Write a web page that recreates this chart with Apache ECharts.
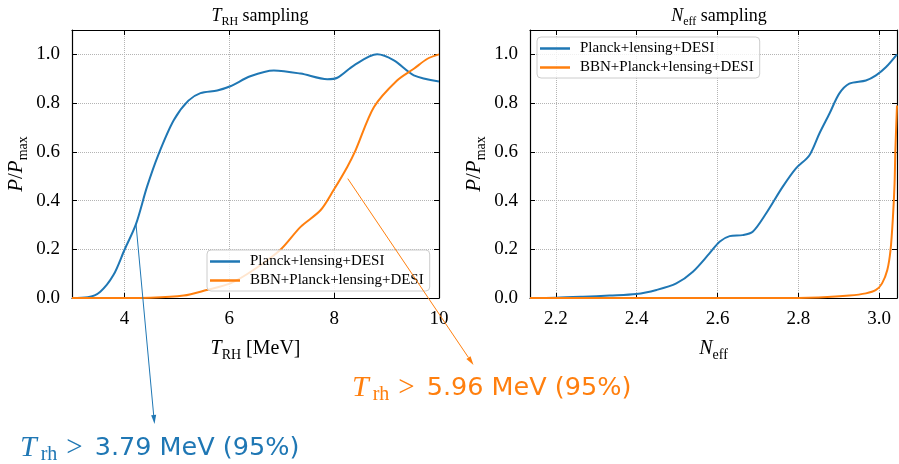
<!DOCTYPE html>
<html>
<head>
<meta charset="utf-8">
<script src="https://cdn.jsdelivr.net/npm/echarts@6/dist/echarts.min.js"></script>
<style>
  html, body { margin: 0; padding: 0; background: #fff; }
  #main { width: 899px; height: 464px; }
</style>
</head>
<body>
<div id="main"></div>
<script>
const seriesNames = ['Planck+lensing+DESI', 'BBN+Planck+lensing+DESI']
const colors = ['#1f77b4', '#ff7f0e']

// T_RH sampling panel
const trhBlueX = [3.0, 3.3, 3.54, 3.79, 4.0, 4.22, 4.43, 4.65, 4.94, 5.22, 5.45, 5.77, 6.02, 6.4, 6.85, 7.36, 7.87, 8.06, 8.38, 8.82, 9.14, 9.52, 10.0]
const trhBlueY = [0, 0.003, 0.026, 0.094, 0.197, 0.303, 0.456, 0.59, 0.73, 0.81, 0.841, 0.852, 0.869, 0.91, 0.934, 0.921, 0.898, 0.904, 0.955, 1.0, 0.975, 0.914, 0.889]
const trhOrangeX = [3.0, 4.0, 4.5, 5.13, 5.57, 6.02, 6.46, 6.97, 7.36, 7.74, 7.99, 8.25, 8.41, 8.76, 9.2, 9.52, 9.78, 10.0]
const trhOrangeY = [0, 0, 0.001, 0.01, 0.033, 0.06, 0.115, 0.197, 0.292, 0.36, 0.443, 0.538, 0.607, 0.784, 0.893, 0.941, 0.982, 1.0]

// N_eff sampling panel
const neffBlueX = [2.136, 2.2, 2.267, 2.333, 2.399, 2.449, 2.498, 2.539, 2.58, 2.605, 2.63, 2.662, 2.687, 2.72, 2.761, 2.794, 2.827, 2.852, 2.877, 2.901, 2.926, 2.967, 2.992, 3.017, 3.044]
const neffBlueY = [0, 0.001, 0.005, 0.01, 0.016, 0.033, 0.06, 0.108, 0.183, 0.231, 0.254, 0.258, 0.272, 0.347, 0.456, 0.532, 0.585, 0.675, 0.757, 0.839, 0.88, 0.893, 0.914, 0.948, 1.0]
const neffOrangeX = [2.136, 2.8, 2.85, 2.926, 2.967, 2.992, 3.007, 3.02, 3.028, 3.034, 3.038, 3.04, 3.044]
const neffOrangeY = [0, 0, 0.002, 0.01, 0.019, 0.033, 0.06, 0.115, 0.197, 0.333, 0.47, 0.607, 0.79]

// tick labels
const trhTicks = [4, 6, 8, 10]
const neffTicks = [2.2, 2.4, 2.6, 2.8, 3.0]
const yTicks = [0, 0.2, 0.4, 0.6, 0.8, 1.0]

const serif = 'Liberation Serif'

function pairs (xs, ys) {
  return xs.map((x, i) => [x, ys[i]])
}

function mathRich (size) {
  return {
    it: { fontFamily: serif, fontStyle: 'italic', fontWeight: 'normal', fontSize: size, color: '#000', lineHeight: size + 6, verticalAlign: 'middle' },
    sub: { fontFamily: serif, fontWeight: 'normal', fontSize: Math.round(size * 0.68), color: '#000', lineHeight: Math.round(size * 0.68), verticalAlign: 'bottom' },
    n: { fontFamily: serif, fontWeight: 'normal', fontSize: size, color: '#000', lineHeight: size + 6, verticalAlign: 'middle' }
  }
}

function xAxes (grid, min, max, ticks, fmt, name) {
  const common = {
    type: 'value',
    gridIndex: grid,
    min: min,
    max: max,
    axisLine: { onZero: false, lineStyle: { color: '#000', width: 1.2 } },
    axisTick: { inside: true, length: 5, customValues: ticks, lineStyle: { color: '#000', width: 1 } }
  }
  return [
    Object.assign({}, common, {
      position: 'bottom',
      axisLabel: { customValues: ticks, formatter: fmt, margin: 12, fontFamily: serif, fontSize: 19, color: '#000' },
      splitLine: { show: true, lineStyle: { color: '#b4b4b4', type: 'dotted', width: 1 } },
      name: name,
      nameLocation: 'middle',
      nameGap: 38,
      nameTextStyle: { rich: mathRich(20) }
    }),
    Object.assign({}, common, {
      position: 'top',
      axisLabel: { show: false },
      splitLine: { show: false }
    })
  ]
}

function yAxes (grid) {
  const common = {
    type: 'value',
    gridIndex: grid,
    min: 0,
    max: 1.1,
    axisLine: { onZero: false, lineStyle: { color: '#000', width: 1.2 } },
    axisTick: { inside: true, length: 5, customValues: yTicks, lineStyle: { color: '#000', width: 1 } }
  }
  return [
    Object.assign({}, common, {
      position: 'left',
      axisLabel: { customValues: yTicks, formatter: v => v.toFixed(1), margin: 12, fontFamily: serif, fontSize: 19, color: '#000' },
      splitLine: { show: true, lineStyle: { color: '#b4b4b4', type: 'dotted', width: 1 } },
      name: '{it|P}{n|/}{it|P}{sub|max}',
      nameLocation: 'middle',
      nameRotate: 90,
      nameGap: 42,
      nameTextStyle: { rich: mathRich(21) }
    }),
    Object.assign({}, common, {
      position: 'right',
      axisLabel: { show: false },
      splitLine: { show: false }
    })
  ]
}

function lineSeries (name, color, xi, yi, data) {
  return {
    name: name,
    type: 'line',
    xAxisIndex: xi,
    yAxisIndex: yi,
    symbol: 'none',
    smooth: 0.3,
    lineStyle: { color: color, width: 2 },
    itemStyle: { color: color },
    data: data
  }
}

function legendAt (left, top) {
  return {
    left: left,
    top: top,
    orient: 'vertical',
    data: seriesNames,
    icon: 'rect',
    itemWidth: 30,
    itemHeight: 2.5,
    itemGap: 4,
    padding: [4, 6, 3, 3],
    backgroundColor: 'rgba(255,255,255,0.8)',
    borderColor: '#cccccc',
    borderWidth: 1,
    borderRadius: 4,
    textStyle: { fontFamily: serif, fontSize: 15, color: '#000', padding: [0, 0, 0, 5] }
  }
}

const myChart = echarts.init(document.getElementById('main'))

myChart.setOption({
  animation: false,
  backgroundColor: '#fff',
  title: [
    { text: '{it|T}{sub|RH}{n| sampling}', left: 255, top: -1, textAlign: 'center', textStyle: { fontWeight: 'normal', rich: mathRich(18) } },
    { text: '{it|N}{sub|eff}{n| sampling}', left: 714, top: -1, textAlign: 'center', textStyle: { fontWeight: 'normal', rich: mathRich(18) } }
  ],
  grid: [
    { left: 72, top: 30, width: 367, height: 268, outerBoundsMode: 'none' },
    { left: 530, top: 30, width: 367, height: 268, outerBoundsMode: 'none' }
  ],
  legend: [legendAt(207, 250), legendAt(537, 37)],
  xAxis: xAxes(0, 3, 10, trhTicks, v => String(v), '{it|T}{sub|RH}{n| [MeV]}')
    .concat(xAxes(1, 2.136, 3.044, neffTicks, v => v.toFixed(1), '{it|N}{sub|eff}')),
  yAxis: yAxes(0).concat(yAxes(1)),
  series: [
    lineSeries(seriesNames[0], colors[0], 0, 0, pairs(trhBlueX, trhBlueY)),
    lineSeries(seriesNames[1], colors[1], 0, 0, pairs(trhOrangeX, trhOrangeY)),
    lineSeries(seriesNames[0], colors[0], 2, 2, pairs(neffBlueX, neffBlueY)),
    lineSeries(seriesNames[1], colors[1], 2, 2, pairs(neffOrangeX, neffOrangeY))
  ]
})

// annotation arrows, starting from points on the T_RH panel
function arrow (from, to, color) {
  const dx = to[0] - from[0]
  const dy = to[1] - from[1]
  const len = Math.sqrt(dx * dx + dy * dy)
  const ux = dx / len
  const uy = dy / len
  const bx = to[0] - ux * 9
  const by = to[1] - uy * 9
  return [
    { type: 'line', z: 50, shape: { x1: from[0], y1: from[1], x2: bx, y2: by }, style: { stroke: color, lineWidth: 1 } },
    {
      type: 'polygon',
      z: 50,
      shape: { points: [[to[0], to[1]], [bx - uy * 2.5, by + ux * 2.5], [bx + uy * 2.5, by - ux * 2.5]] },
      style: { fill: color }
    }
  ]
}

function annRich (color) {
  return {
    it: { fontFamily: serif, fontStyle: 'italic', fontSize: 30, fill: color, lineHeight: 34, verticalAlign: 'middle' },
    sub: { fontFamily: serif, fontSize: 20, fill: color, lineHeight: 20, verticalAlign: 'bottom', padding: [0, 0, 0, 4] },
    op: { fontFamily: serif, fontSize: 29, fill: color, lineHeight: 34, verticalAlign: 'middle', padding: [0, 12, 0, 9] },
    num: { fontFamily: 'DejaVu Sans', fontSize: 25.5, fill: color, lineHeight: 34, verticalAlign: 'middle' }
  }
}

const blueStart = myChart.convertToPixel({ gridIndex: 0 }, [4.22, 0.305])
const orangeStart = myChart.convertToPixel({ gridIndex: 0 }, [8.26, 0.49])

myChart.setOption({
  graphic: arrow(blueStart, [154.5, 424], colors[0])
    .concat(arrow(orangeStart, [473.5, 365], colors[1]))
    .concat([
      {
        type: 'text',
        z: 50,
        x: 20,
        y: 448,
        style: { text: '{it|T}{sub|rh}{op|>}{num|3.79 MeV (95%)}', rich: annRich(colors[0]), verticalAlign: 'middle' }
      },
      {
        type: 'text',
        z: 50,
        x: 352,
        y: 388,
        style: { text: '{it|T}{sub|rh}{op|>}{num|5.96 MeV (95%)}', rich: annRich(colors[1]), verticalAlign: 'middle' }
      }
    ])
})
</script>
</body>
</html>
